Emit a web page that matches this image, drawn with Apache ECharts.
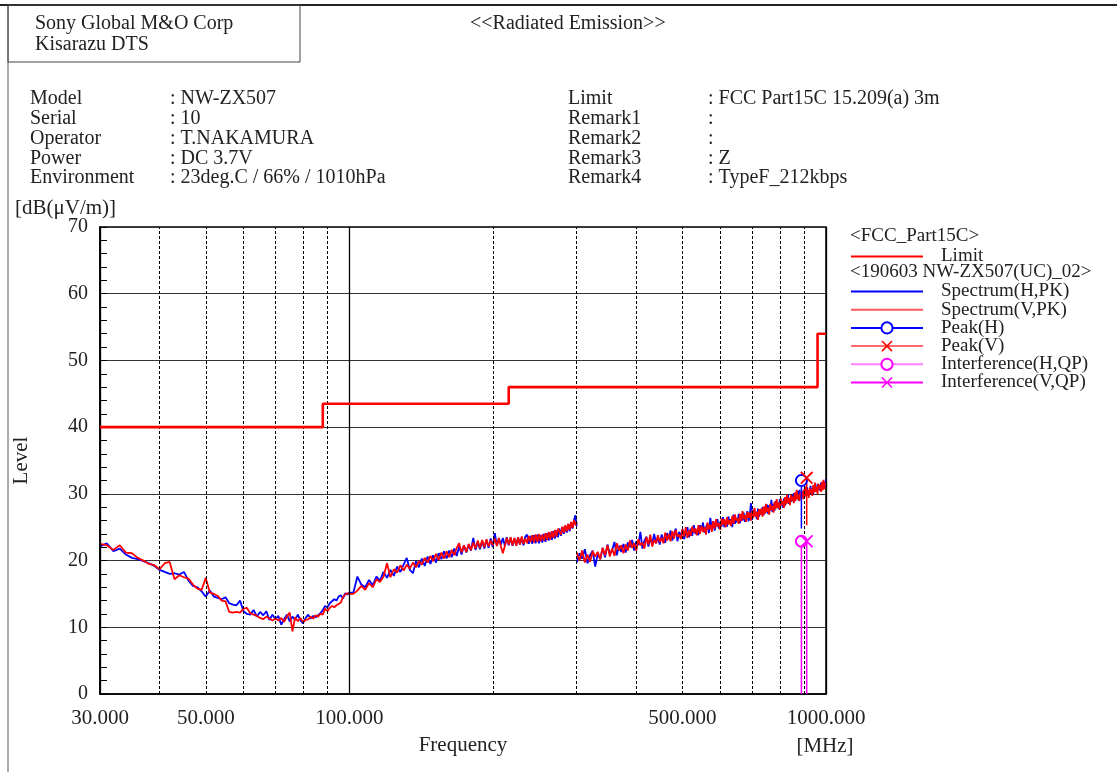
<!DOCTYPE html>
<html>
<head>
<meta charset="utf-8">
<script src="https://cdn.jsdelivr.net/npm/echarts@6/dist/echarts.min.js"></script>
<style>
html,body{margin:0;padding:0;background:#fff;}
#chart{width:1117px;height:772px;}
</style>
</head>
<body>
<div id="chart"></div>
<script>
// ---------------- DATA ----------------
// Frequencies [MHz] of the 30-300 MHz sweep
const freq1 = [30,31,32,33,34,35,36,37,38,39,40,41,42,43,44,45,46,47,48,49,50,51,52,53,54,55,56,57,58,59,60,61,62,63,64,65,66,67,68,69,70,71,72,73,74,75,76,77,78,79,80,81,82,83,84,85,86,87,88,89,90,91,92,93,94,95,96,97,98,99,100,
102,104,106,108,110,112,114,116,118,120,122,124,126,128,130,132,134,136,138,140,142,144,146,148,150,152,154,156,158,160,162,164,166,168,170,172,174,176,178,180,182,184,186,188,190,192,194,196,198,200,202,204,206,208,210,212,214,216,218,220,222,224,226,228,230,232,234,236,238,240,242,244,246,248,250,252,254,256,258,260,262,264,266,268,270,272,274,276,278,280,282,284,286,288,290,292,294,296,298,300];

// Spectrum(H,PK) 30-300 MHz [dB(uV/m)]
const specH1 = [
22.1,22.6,21.4,21.8,20.9,20.4,20.2,19.9,19.6,19.2,
18.6,18.3,18.0,18.1,17.9,18.3,17.0,16.2,16.0,15.4,
14.6,15.5,14.6,14.4,14.2,14.5,13.6,13.4,13.3,14.0,
12.4,12.0,11.9,12.6,11.6,12.3,11.8,12.4,11.1,11.9,
11.2,11.7,10.4,11.2,11.9,10.9,11.6,11.1,11.9,11.0,
10.6,11.4,11.9,11.3,11.7,11.5,11.8,12.1,12.6,13.2,
13.0,13.6,13.9,14.2,14.0,14.6,14.8,14.3,15.1,14.9,
15.2,
15.2,17.6,16.4,16.0,17.1,16.3,17.6,17.0,18.3,17.4,
18.6,17.7,19.1,18.3,19.4,20.4,18.6,18.1,19.9,19.0,
20.3,19.2,20.6,19.5,20.8,19.7,21.1,20.2,21.4,20.3,
21.5,20.5,21.8,20.7,22.1,20.9,22.3,21.2,22.4,21.5,
23.4,21.6,22.8,21.7,22.9,21.8,23.1,21.9,23.3,22.0,
24.1,22.2,23.3,22.4,23.4,22.2,23.5,22.3,23.4,22.2,
23.3,22.3,23.5,22.4,23.4,22.3,23.6,23.9,22.5,23.7,
22.5,23.8,22.6,23.9,22.6,23.8,22.7,24.0,22.8,24.1,
23.0,24.2,23.1,24.4,23.3,24.5,23.5,24.8,23.7,25.0,
24.0,25.2,24.2,25.5,24.4,25.7,24.8,26.0,26.8,25.2];

// Spectrum(V,PK) 30-300 MHz
const specV1 = [
22.5,22.3,21.6,22.3,21.2,21.1,20.4,20.0,19.5,19.3,
18.7,19.6,19.8,17.2,17.8,17.5,17.3,16.4,15.8,15.6,
17.4,15.2,15.0,14.7,14.0,13.9,12.3,12.2,12.3,12.2,
12.8,12.9,12.1,11.9,11.7,11.4,11.2,11.6,11.3,11.0,
11.3,11.0,11.4,10.8,11.6,12.2,9.4,11.5,10.9,11.4,
10.8,11.1,11.2,11.6,11.3,11.8,11.6,12.0,11.9,12.8,
12.4,12.9,13.2,13.0,13.3,13.5,13.7,14.5,14.9,15.1,
15.0,
15.0,15.5,16.2,15.6,16.6,16.0,17.2,16.8,17.6,19.6,
17.5,18.7,18.2,19.3,18.5,19.4,18.8,19.7,19.0,19.9,
19.4,20.4,19.7,20.7,19.9,21.0,20.1,21.2,20.3,21.4,
20.5,21.6,20.8,21.9,22.6,21.2,22.3,21.3,22.5,21.6,
22.7,21.8,23.0,21.9,23.1,22.0,23.2,22.1,23.0,22.3,
23.3,22.2,23.4,22.1,21.1,22.2,23.4,22.4,23.5,22.3,
23.4,22.2,23.5,22.4,23.6,22.5,23.3,22.6,23.7,22.8,
23.8,22.7,23.9,22.8,24.0,22.9,23.9,23.0,24.1,23.1,
24.3,23.2,24.4,23.4,24.6,23.6,24.8,24.9,23.9,25.1,
24.2,25.3,24.4,25.5,24.6,25.8,24.9,26.1,25.3,25.8];

// Frequencies [MHz] of the 300-1000 MHz sweep
const freq2 = [
300,304,308,312,316,320,324,328,332,336,
340,344,348,352,356,360,364,368,372,376,
380,384,388,392,396,400,404,408,412,416,
420,424,428,432,436,440,444,448,452,456,
460,464,468,472,476,480,484,488,492,496,
500,504,508,512,516,520,524,528,532,536,
540,544,548,552,556,560,564,568,572,576,
580,584,588,592,596,600,604,608,612,616,
620,624,628,632,636,640,644,648,652,656,
660,664,668,672,676,680,684,688,692,696,
700,704,708,712,716,720,724,728,732,736,
740,744,748,752,756,760,764,768,772,776,
780,784,788,792,796,800,804,808,812,816,
820,824,828,832,836,840,844,848,852,856,
860,864,868,872,876,880,884,888,892,896,
900,904,908,912,916,920,924,928,932,936,
940,944,948,952,956,960,964,968,972,976,
980,984,988,992,996,1000];

const specH2 = [
19.7,21.1,20.3,21.7,19.6,20.8,21.5,19.1,21.0,20.2,
21.9,20.5,22.4,21.0,21.6,22.8,20.8,22.2,21.3,22.5,
21.2,22.7,22.0,23.1,21.5,22.9,22.3,24.3,21.8,23.0,
23.6,22.1,23.3,22.5,24.0,22.6,23.5,22.4,23.9,23.0,
22.7,24.1,23.2,24.5,23.0,23.9,24.8,22.9,24.3,23.5,
24.7,23.2,24.4,25.0,23.5,24.8,23.7,25.3,24.0,24.6,
23.8,25.3,24.6,25.7,24.2,25.0,25.5,24.1,26.4,24.7,
25.9,24.5,25.4,26.2,24.8,25.8,25.1,26.5,25.0,25.9,
25.1,26.6,25.6,26.2,25.0,26.9,25.5,26.4,25.7,27.0,
25.6,26.9,26.0,27.2,25.8,26.7,27.4,25.9,26.8,28.6,
26.1,27.6,26.7,27.3,26.2,27.8,26.6,27.5,26.9,28.0,
26.8,28.1,27.2,28.4,27.0,28.3,27.5,29.1,27.3,28.5,
27.5,28.9,28.0,28.6,27.7,29.2,28.3,28.9,27.9,29.3,
28.2,29.5,28.6,29.9,28.5,29.3,28.8,29.8,28.9,30.1,
28.9,30.2,29.3,30.4,29.0,30.6,29.4,30.0,29.6,30.5,
29.4,30.7,29.8,31.0,29.7,30.5,30.0,31.2,29.9,30.8,
30.0,31.3,30.4,31.0,30.3,31.5,30.6,31.2,30.5,31.7,
30.7,31.6,30.9,31.8,31.0,32.2];

const specV2 = [
21.2,20.0,21.5,19.7,20.9,19.8,21.4,20.6,21.3,20.2,
21.9,20.8,22.3,20.6,21.8,20.7,22.6,21.5,22.3,21.1,
22.4,21.5,23.0,21.9,22.6,21.5,23.2,22.3,22.7,21.8,
23.5,22.4,23.9,22.1,23.1,22.6,23.8,22.8,23.4,22.6,
24.2,23.0,24.0,22.9,24.4,23.3,24.6,23.6,23.9,23.2,
24.7,23.6,25.0,23.4,24.5,23.7,25.1,24.2,24.8,23.8,
25.3,24.0,25.2,24.3,25.0,23.9,25.7,24.7,25.4,24.3,
25.9,24.8,26.2,25.1,25.6,24.6,26.3,25.4,26.2,25.0,
26.5,25.4,26.1,25.2,26.7,25.5,26.9,26.0,26.3,25.5,
27.0,25.9,27.4,26.2,26.8,25.8,27.3,26.4,27.2,26.0,
27.5,26.4,27.9,26.6,27.3,26.1,27.7,26.9,27.8,26.6,
28.1,27.0,28.5,27.3,27.9,26.9,28.5,27.6,28.2,27.2,
28.8,27.7,29.2,27.9,28.7,27.6,29.3,28.4,28.9,27.9,
29.5,28.4,29.9,28.6,29.4,28.3,29.8,29.0,29.6,28.6,
30.2,29.0,30.6,29.2,29.9,28.9,30.3,29.7,30.4,29.2,
30.7,29.6,31.1,29.8,30.5,29.4,30.9,30.1,30.7,29.7,
31.3,30.2,31.7,30.3,31.0,30.0,31.5,30.8,31.3,30.3,
31.8,30.5,32.1,30.7,31.6,31.5];

// FCC Part15C 15.209(a) 3m limit
const limitFreq  = [30, 88, 88, 216, 216, 960, 960, 1000];
const limitLevel = [40, 40, 43.5, 43.5, 46, 46, 54, 54];

// Markers: [freq, lower end of stick, marker level]
const peakH = [888, 24.8, 32.0];
const peakV = [911, 25.3, 32.4];
const intfH = [888, 0, 22.9];
const intfV = [911, 0, 22.9];

// Axis ticks
const yTicks = [0, 10, 20, 30, 40, 50, 60, 70];
const xGridDashed = [40, 50, 60, 70, 80, 90, 200, 300, 400, 500, 600, 700, 800, 900];
const xGridSolid = [30, 100, 1000];
const xLabelFreqs = [30, 50, 100, 500, 1000];

// Header texts
const infoLabels = ['Model', 'Serial', 'Operator', 'Power', 'Environment'];
const infoValues = [': NW-ZX507', ': 10', ': T.NAKAMURA', ': DC 3.7V', ': 23deg.C / 66% / 1010hPa'];
const remarkLabels = ['Limit', 'Remark1', 'Remark2', 'Remark3', 'Remark4'];
const remarkValues = [': FCC Part15C 15.209(a) 3m', ':', ':', ': Z', ': TypeF_212kbps'];

// ---------------- CHART ----------------
const FONT = '"Liberation Serif", "DejaVu Serif", serif';
const TXT = '#222';
const pairs = (fs, vs) => fs.map((f, i) => [f, vs[i]]);
if (freq1.length !== specH1.length || freq1.length !== specV1.length ||
    freq2.length !== specH2.length || freq2.length !== specV2.length) {
  console.error('length mismatch', freq1.length, specH1.length, specV1.length, freq2.length, specH2.length, specV2.length);
}
const XSYM = 'path://M0,1L1,0L5,4L9,0L10,1L6,5L10,9L9,10L5,6L1,10L0,9L4,5Z';

function stick(m) {
  return [{ value: [m[0], m[1]], symbol: 'none' }, [m[0], m[2]]];
}

const allGrid = xGridDashed.concat(xGridSolid).sort((a, b) => a - b);
const markLineData = allGrid.map(f => {
  const dashed = xGridDashed.indexOf(f) >= 0;
  const showLbl = xLabelFreqs.indexOf(f) >= 0;
  return {
    xAxis: f,
    lineStyle: dashed ? { type: [3, 2], color: '#000', width: 1 } : { type: 'solid', color: '#000', width: 1.3 },
    label: { show: showLbl, formatter: f.toFixed(3) }
  };
});

const textEl = (x, y, text, opts) => ({
  type: 'text', silent: true,
  style: Object.assign({ x: x, y: y, text: text, font: '20px ' + FONT, fill: TXT, verticalAlign: 'middle', align: 'left' }, opts || {})
});

const graphics = [
  { type: 'line', silent: true, shape: { x1: 0, y1: 5, x2: 1117, y2: 5 }, style: { stroke: '#222', lineWidth: 2 } },
  { type: 'line', silent: true, shape: { x1: 8, y1: 5, x2: 8, y2: 772 }, style: { stroke: '#555', lineWidth: 1 } },
  { type: 'rect', silent: true, shape: { x: 8, y: 5, width: 292, height: 57 }, style: { fill: 'none', stroke: '#444', lineWidth: 1 } },
  textEl(35, 24, 'Sony Global M&O Corp'),
  textEl(35, 45, 'Kisarazu DTS'),
  textEl(470, 24, '<<Radiated Emission>>'),
  textEl(15, 208, '[dB(μV/m)]', { font: '21px ' + FONT }),
  textEl(825, 746, '[MHz]', { align: 'center', font: '21px ' + FONT }),
  textEl(850, 236, '<FCC_Part15C>', { font: '19px ' + FONT }),
  textEl(850, 272, '<190603 NW-ZX507(UC)_02>', { font: '19px ' + FONT })
];
infoLabels.forEach((t, i) => {
  const y = 99 + i * 19.75;
  graphics.push(textEl(30, y, t));
  graphics.push(textEl(170, y, infoValues[i]));
  graphics.push(textEl(568, y, remarkLabels[i]));
  graphics.push(textEl(708, y, remarkValues[i]));
});

const legendText = { fontFamily: FONT, fontSize: 19, color: TXT, padding: [0, 0, 0, 13] };
const noSym = { opacity: 0 };

const chart = echarts.init(document.getElementById('chart'), null, { renderer: 'canvas' });
chart.setOption({
  animation: false,
  backgroundColor: '#fff',
  textStyle: { fontFamily: FONT },
  grid: { left: 100, right: 291, top: 227, bottom: 78, show: true, borderColor: '#000', borderWidth: 1.5, backgroundColor: 'transparent' },
  legend: [
    { data: [{ name: 'Limit', itemStyle: noSym }],
      orient: 'vertical', left: 850, top: 247, padding: 0, itemWidth: 72, itemHeight: 14, itemGap: 0,
      selectedMode: false, textStyle: legendText },
    { data: [
        { name: 'Spectrum(H,PK)', itemStyle: noSym },
        { name: 'Spectrum(V,PK)', itemStyle: noSym, lineStyle: { color: '#ff5a5a' } },
        'Peak(H)',
        { name: 'Peak(V)', lineStyle: { color: '#ff6a6a' } },
        { name: 'Interference(H,QP)', lineStyle: { color: '#ff80ff' } },
        'Interference(V,QP)'
      ],
      orient: 'vertical', left: 850, top: 282, padding: 0, itemWidth: 72, itemHeight: 14, itemGap: -0.8,
      selectedMode: false, textStyle: legendText }
  ],
  xAxis: {
    type: 'log', logBase: 10, min: 30, max: 1000,
    axisLine: { show: true, lineStyle: { color: '#000', width: 1.5 } },
    axisTick: { show: false }, axisLabel: { show: false }, splitLine: { show: false }, minorTick: { show: false },
    name: 'Frequency', nameLocation: 'middle', nameGap: 41,
    nameTextStyle: { fontFamily: FONT, fontSize: 21, color: TXT }
  },
  yAxis: {
    type: 'value', min: yTicks[0], max: yTicks[yTicks.length - 1], interval: 10,
    axisLine: { show: true, lineStyle: { color: '#000', width: 1.5 } },
    axisTick: { show: true, inside: true, length: 7, lineStyle: { color: '#000' } },
    minorTick: { show: true, splitNumber: 5, length: 7, lineStyle: { color: '#000', width: 1 } },
    axisLabel: { fontFamily: FONT, fontSize: 20, color: TXT, margin: 12 },
    splitLine: { show: true, lineStyle: { color: '#333', width: 1 } },
    name: 'Level', nameLocation: 'middle', nameGap: 68, nameRotate: 90,
    nameTextStyle: { fontFamily: FONT, fontSize: 21, color: TXT }
  },
  graphic: graphics,
  series: [
    { type: 'line', name: '', data: [], z: 1, silent: true,
      markLine: { silent: true, symbol: 'none', animation: false, data: markLineData,
        label: { position: 'start', distance: 14, fontFamily: FONT, fontSize: 21, color: TXT } } },
    { type: 'line', name: 'Spectrum(H,PK)', data: pairs(freq1, specH1), symbol: 'none', showSymbol: false,
      color: '#0000ff', lineStyle: { color: '#0000ff', width: 1.8 }, z: 3 },
    { type: 'line', name: 'Spectrum(H,PK)', data: pairs(freq2, specH2), symbol: 'none', showSymbol: false,
      color: '#0000ff', lineStyle: { color: '#0000ff', width: 1.8 }, z: 3 },
    { type: 'line', name: 'Spectrum(V,PK)', data: pairs(freq1, specV1), symbol: 'none', showSymbol: false,
      color: '#ff0000', lineStyle: { color: '#ff0000', width: 1.8 }, z: 4 },
    { type: 'line', name: 'Spectrum(V,PK)', data: pairs(freq2, specV2), symbol: 'none', showSymbol: false,
      color: '#ff0000', lineStyle: { color: '#ff0000', width: 1.8 }, z: 4 },
    { type: 'line', name: 'Limit', data: pairs(limitFreq, limitLevel), symbol: 'none', showSymbol: false,
      color: '#ff0000', lineStyle: { color: '#ff0000', width: 2.6 }, z: 5 },
    { type: 'line', name: 'Peak(H)', data: stick(peakH), symbol: 'emptyCircle', symbolSize: 11,
      color: '#0000ff', lineStyle: { color: '#0000ff', width: 1.5 }, itemStyle: { borderWidth: 1.3 }, z: 6 },
    { type: 'line', name: 'Peak(V)', data: stick(peakV), symbol: XSYM, symbolSize: 13,
      color: '#ff0000', lineStyle: { color: '#ff0000', width: 1.5 }, z: 6 },
    { type: 'line', name: 'Interference(H,QP)', data: stick(intfH), symbol: 'emptyCircle', symbolSize: 11,
      color: '#ff00ff', lineStyle: { color: '#ff00ff', width: 1.5 }, itemStyle: { borderWidth: 1.3 }, z: 7 },
    { type: 'line', name: 'Interference(V,QP)', data: stick(intfV), symbol: XSYM, symbolSize: 13,
      color: '#ff00ff', lineStyle: { color: '#ff00ff', width: 1.5 }, z: 7 }
  ]
});
</script>
</body>
</html>
